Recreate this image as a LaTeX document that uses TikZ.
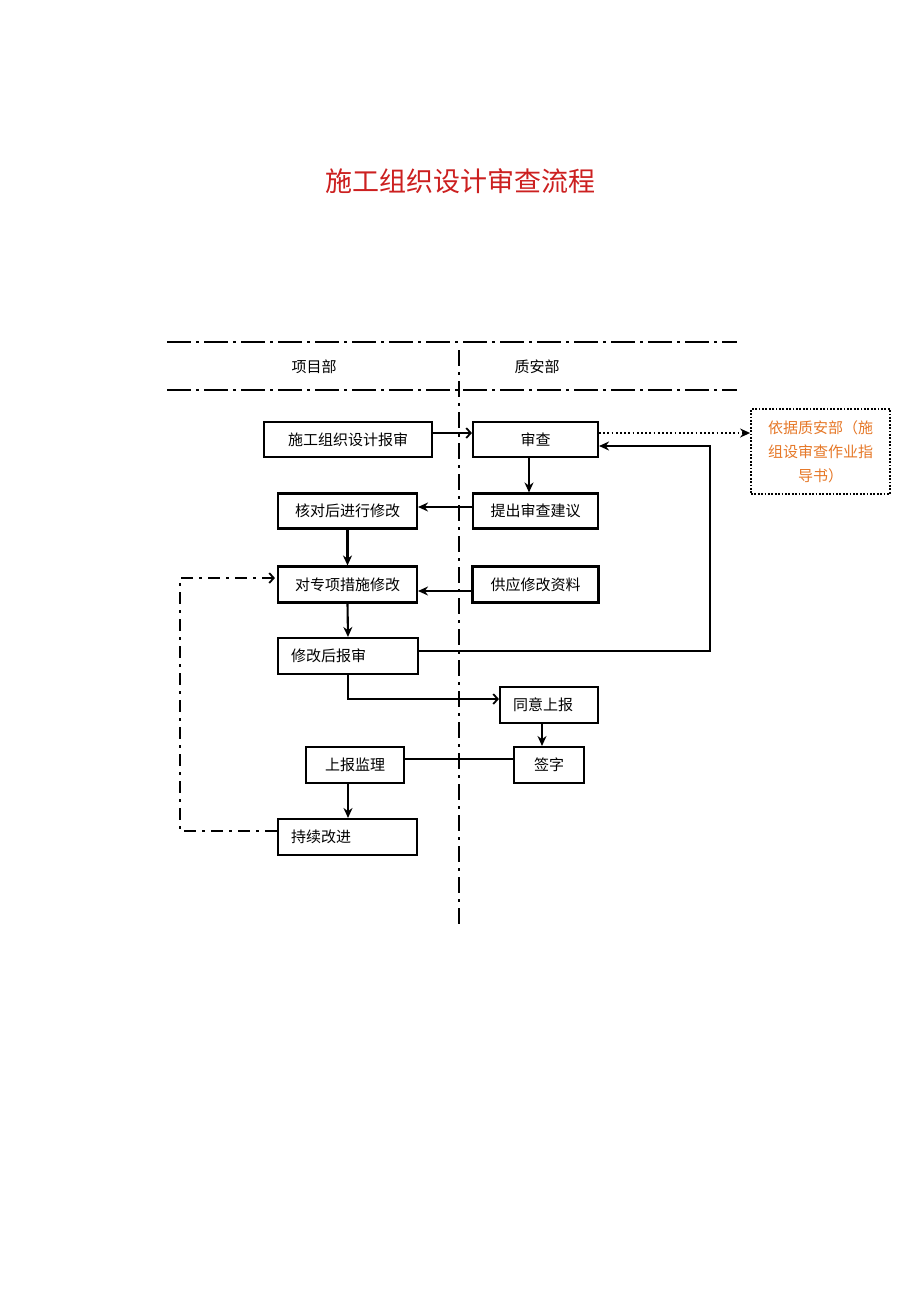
\documentclass[tikz,border=0pt]{standalone}
\usepackage{fontspec}
\setmainfont{Noto Sans CJK SC}
\usetikzlibrary{arrows.meta}
\definecolor{titlered}{RGB}{204,32,32}
\definecolor{noteorange}{RGB}{230,120,40}
\begin{document}
\begin{tikzpicture}[x=1pt,y=-1pt,
  box/.style={draw, line width=2.1pt, inner sep=0pt, font=\fontsize{15}{18}\selectfont},
  conn/.style={line width=2.1pt},
  arrF/.style={conn, -{Stealth[length=10pt,width=9pt]}},
  arrO/.style={conn, -{Straight Barb[length=4.5pt,width=10pt,line width=1.8pt]}},
  hdd/.style={line width=2.8pt, dash pattern=on 24pt off 5pt on 3pt off 5pt},
  vdd/.style={line width=2.8pt, dash pattern=on 16pt off 6pt on 3pt off 6pt},
  ldd/.style={line width=2.2pt, dash pattern=on 12pt off 6pt on 3pt off 6pt},
  lane/.style={font=\fontsize{15}{18}\selectfont}
]
\useasboundingbox[fill=white] (0,0) rectangle (920,1302);

\node[font=\fontsize{27}{32}\selectfont, text=titlered] (title) at (460,181) {施工组织设计审查流程};

\draw[hdd] (167,342) -- (737,342);
\draw[hdd] (167,390) -- (737,390);
\draw[vdd] (459,350) -- (459,928);

\node[lane] (lp) at (314,367) {项目部};
\node[lane] (lq) at (537,367) {质安部};

\node[box, minimum width=168pt, minimum height=35pt] (n1) at (348,439.5) {施工组织设计报审};
\node[box, minimum width=125pt, minimum height=35pt] (n2) at (535.5,439.5) {审查};
\node[box, minimum width=125pt, minimum height=35pt] (n3) at (535.5,511) {提出审查建议};
\node[box, minimum width=139pt, minimum height=35pt] (n4) at (347.5,511) {核对后进行修改};
\node[box, minimum width=139pt, minimum height=36pt] (n5) at (347.5,584.5) {对专项措施修改};
\node[box, minimum width=126pt, minimum height=36pt] (n6) at (535.5,584.5) {供应修改资料};
\node[box, minimum width=140pt, minimum height=36pt, align=left, text width=114pt, inner xsep=13pt] (n7) at (348,656) {修改后报审};
\node[box, minimum width=98pt, minimum height=36pt] (n8) at (549,705) {\hspace*{-12pt}同意上报};
\node[box, minimum width=70pt, minimum height=36pt] (n9) at (549,765) {签字};
\node[box, minimum width=98pt, minimum height=36pt] (n10) at (355,765) {上报监理};
\node[box, minimum width=139pt, minimum height=36pt, align=left, text width=113pt, inner xsep=13pt] (n11) at (347.5,837) {持续改进};
\node[draw, line width=1.8pt, dash pattern=on 1.8pt off 1.6pt, minimum width=139pt, minimum height=85pt, inner sep=0pt,
      align=center, text=noteorange, font=\fontsize{15}{24}\selectfont] (n12) at (820.5,451.5)
      {依据质安部（施\\组设审查作业指\\导书）};

\draw[arrO] ([yshift=6.5pt]n1.east) -- ([yshift=6.5pt]n2.west);
\draw[arrF] ([xshift=-6.5pt]n2.south) -- ([xshift=-6.5pt]n3.north);
\draw[arrF] ([yshift=4pt]n3.west) -- ([yshift=4pt]n4.east);
\draw[arrF] (n4.south) -- (n5.north);
\draw[arrF] ([yshift=-6.5pt]n6.west) -- ([yshift=-6.5pt]n6.west -| n5.east);
\draw[arrF] (n5.south) -- (n7.north);
\draw[arrF] ([yshift=5pt]n7.east) -| ([xshift=111pt,yshift=-6.5pt]n2.east) -- ([yshift=-6.5pt]n2.east);
\draw[arrO] (n7.south) |- ([yshift=6pt]n8.west);
\draw[arrF] ([xshift=-7pt]n8.south) -- ([xshift=-7pt]n9.north);
\draw[conn] ([yshift=6pt]n9.west) -- ([yshift=6pt]n10.east);
\draw[arrF] ([xshift=-7pt]n10.south) -- ([xshift=-7pt]n10.south |- n11.north);
\coordinate (L) at (180,578);
\draw[ldd, -{Straight Barb[length=4.5pt,width=10pt,line width=1.8pt]}] ([yshift=6pt]n11.west) -| (L) -- ([xshift=-2pt,yshift=6.5pt]n5.west);
\draw[line width=1.8pt, dash pattern=on 1.8pt off 2.4pt, -{Stealth[length=10pt,width=9pt]}] ([yshift=6.5pt]n2.east) -- ([yshift=6.5pt]n2.east -| n12.west);
\end{tikzpicture}
\end{document}
